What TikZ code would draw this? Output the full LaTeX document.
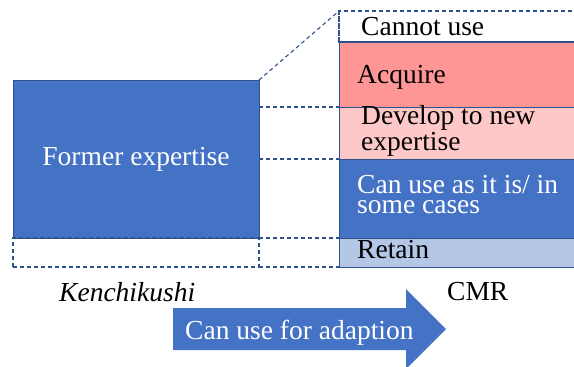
\documentclass[tikz,border=0pt]{standalone}
\usepackage{fontspec}
\setmainfont{Liberation Serif}
\usepackage{tikz}

\definecolor{officeBlue}{HTML}{4472C4}
\definecolor{edgeBlue}{HTML}{2F528F}
\definecolor{acquireRed}{HTML}{FF9696}
\definecolor{developPink}{HTML}{FFC8C8}
\definecolor{retainBlue}{HTML}{B4C7E7}

\begin{document}
\begin{tikzpicture}[x = 1pt, y = -1pt, font = \rmfamily\fontsize{27.5pt}{20pt}\selectfont,
    band/.style = {rectangle, draw = edgeBlue, line width = 0.8pt, inner sep = 0pt, outer sep = 0pt, anchor = north west, minimum width = 241pt},
    guide/.style = {draw = edgeBlue, line width = 1.1pt, dash pattern = on 4pt off 3pt},
    lbl/.style = {inner sep = 0pt, anchor = base west, align = left}]
    \clip (0,0) rectangle (574,367);
    % former expertise and the part that is kept
    \node[band, fill = officeBlue, minimum width = 246pt, minimum height = 158pt] (former) at (13,80) {};
    \node[text = white] (formerTxt) at (former.center) {Former expertise};
    \node[band, guide, minimum width = 246pt, minimum height = 29pt] (ext) at (13,238) {};
    % CMR column
    \node[band, guide, minimum height = 31pt] (cannot) at (339,11) {};
    \node[band, fill = acquireRed, minimum height = 65pt] (acquire) at (339,42) {};
    \node[band, fill = developPink, minimum height = 52pt] (develop) at (339,107) {};
    \node[band, fill = officeBlue, minimum height = 79pt] (canuse) at (339,159) {};
    \node[band, fill = retainBlue, minimum height = 29pt] (retain) at (339,238) {};
    \draw[guide] (cannot.north west) -- (cannot.south west) -- (cannot.south east);
    \node[lbl] (cannotTxt) at (361,35) {Cannot use};
    \node[lbl] (acquireTxt) at (357,83) {Acquire};
    \node[lbl] (developTxt) at (361,150) {Develop to new\\expertise};
    \node[lbl, text = white] (canuseTxt) at (357,213) {Can use as it is/ in\\some cases};
    \node[lbl] (retainTxt) at (357,258) {Retain};
    % dashed guides
    \draw[guide] (former.north east) -- (cannot.north west);
    \draw[guide] (acquire.south west -| former.east) -- (acquire.south west);
    \draw[guide] (develop.south west -| former.east) -- (develop.south west);
    \draw[guide] (former.south east) -- (canuse.south west);
    \draw[guide] (ext.south east) -- (retain.south west);
    % labels and arrow
    \node[lbl, font = \rmfamily\itshape\fontsize{27.5pt}{20pt}\selectfont] (kenchikushi) at (59,301) {Kenchikushi};
    \node[lbl] (cmr) at (447,300) {CMR};
    \fill[officeBlue] (173,308) -- (406,308) -- (406,289) -- (446,329) -- (406,369) -- (406,350) -- (173,350) -- cycle;
    \node[lbl, text = white] (adapt) at (185,339) {Can use for adaption};
\end{tikzpicture}
\end{document}
